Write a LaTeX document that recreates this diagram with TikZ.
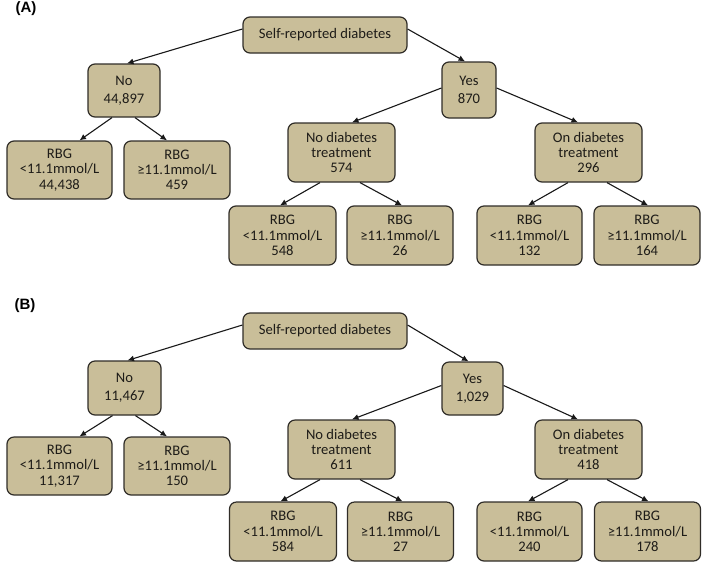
\documentclass[tikz,border=0pt]{standalone}
\usepackage{fontspec}
\setmainfont{Carlito}
\newfontfamily\labfont{Liberation Sans}
\usetikzlibrary{arrows.meta}
\definecolor{boxtan}{RGB}{201,190,153}
\definecolor{boxedge}{RGB}{48,45,40}
\definecolor{txt}{RGB}{30,28,24}
\begin{document}
\begin{tikzpicture}[x=1pt,y=-1pt,
  box/.style={draw=boxedge, fill=boxtan, line width=1.2pt, rounded corners=7pt,
    inner sep=0pt, align=center, text=txt, font=\fontsize{14.6}{15.2}\selectfont},
  bw/.style={minimum width=#1pt},
  bh/.style={minimum height=#1pt},
  conn/.style={draw=black!90, line width=1.1pt, -{Latex[length=6.5pt,width=6pt]}},
  panel/.style={font=\labfont\bfseries\fontsize{15}{15}\selectfont, inner sep=0pt}
]
\useasboundingbox[fill=white] (0,0) rectangle (708,563);

% ---------------- Panel A ----------------
\node[panel] (labA) at (26,9) {(A)};
\node[box,bw=164,bh=36] (rootA) at (325,35) {Self-reported diabetes};
\node[box,bw=72,bh=53] (noA) at (124,90.5) {No\\[3pt]44,897};
\node[box,bw=54,bh=56] (yesA) at (469,90) {Yes\\[3pt]870};
\node[box,bw=105,bh=58] (rbgA1) at (59.5,170) {RBG\\<11.1mmol/L\\44,438};
\node[box,bw=106,bh=58] (rbgA2) at (177,170) {RBG\\≥11.1mmol/L\\459};
\node[box,bw=107,bh=59] (notrA) at (341.5,152.5) {No diabetes\\treatment\\574};
\node[box,bw=107,bh=59] (ontrA) at (588.5,152.5) {On diabetes\\treatment\\296};
\node[box,bw=107,bh=59] (a31) at (282.5,235.5) {RBG\\<11.1mmol/L\\548};
\node[box,bw=106,bh=59] (a32) at (400,235.5) {RBG\\≥11.1mmol/L\\26};
\node[box,bw=105,bh=59] (a33) at (529.5,235.5) {RBG\\<11.1mmol/L\\132};
\node[box,bw=106,bh=59] (a34) at (647,235.5) {RBG\\≥11.1mmol/L\\164};

\draw[conn] ([yshift=6pt]rootA.west) -- ([xshift=3pt]noA.north);
\draw[conn] ([yshift=6pt]rootA.east) -- ([xshift=-4pt]yesA.north);
\draw[conn] ([yshift=2pt]yesA.west) -- ([xshift=10.5pt]notrA.north);
\draw[conn] ([yshift=2pt]yesA.east) -- ([xshift=-10.5pt]ontrA.north);
\draw[conn] ([xshift=-12pt]noA.south) -- ([xshift=20pt]rbgA1.north);
\draw[conn] ([xshift=11pt]noA.south) -- ([xshift=-10pt]rbgA2.north);
\draw[conn] ([xshift=-21.5pt]notrA.south) -- ([xshift=-2.5pt]a31.north);
\draw[conn] ([xshift=18.5pt]notrA.south) -- ([xshift=2pt]a32.north);
\draw[conn] ([xshift=-20.5pt]ontrA.south) -- ([xshift=-1.5pt]a33.north);
\draw[conn] ([xshift=18.5pt]ontrA.south) -- ([xshift=1pt]a34.north);

% ---------------- Panel B ----------------
\node[panel] (labB) at (25,306) {(B)};
\node[box,bw=164,bh=36] (rootB) at (325,331) {Self-reported diabetes};
\node[box,bw=73,bh=54] (noB) at (124.5,388) {No\\[3pt]11,467};
\node[box,bw=61,bh=53] (yesB) at (472.5,388.5) {Yes\\[3pt]1,029};
\node[box,bw=105,bh=58] (rbgB1) at (59.5,466) {RBG\\<11.1mmol/L\\11,317};
\node[box,bw=106,bh=58] (rbgB2) at (177,466) {RBG\\≥11.1mmol/L\\150};
\node[box,bw=107,bh=59] (notrB) at (341.5,449.5) {No diabetes\\treatment\\611};
\node[box,bw=107,bh=59] (ontrB) at (588.5,449.5) {On diabetes\\treatment\\418};
\node[box,bw=107,bh=59] (b31) at (283,531.5) {RBG\\<11.1mmol/L\\584};
\node[box,bw=106,bh=59] (b32) at (400.5,531.5) {RBG\\≥11.1mmol/L\\27};
\node[box,bw=105,bh=59] (b33) at (529.5,531.5) {RBG\\<11.1mmol/L\\240};
\node[box,bw=106,bh=59] (b34) at (647.5,531.5) {RBG\\≥11.1mmol/L\\178};

\draw[conn] ([yshift=6pt]rootB.west) -- ([xshift=3pt]noB.north);
\draw[conn] ([yshift=6pt]rootB.east) -- ([xshift=-4pt]yesB.north);
\draw[conn] ([yshift=3pt]yesB.west) -- ([xshift=10.5pt]notrB.north);
\draw[conn] ([yshift=3pt]yesB.east) -- ([xshift=-10.5pt]ontrB.north);
\draw[conn] ([xshift=-12pt]noB.south) -- ([xshift=20pt]rbgB1.north);
\draw[conn] ([xshift=11pt]noB.south) -- ([xshift=-10pt]rbgB2.north);
\draw[conn] ([xshift=-21.5pt]notrB.south) -- ([xshift=-2.5pt]b31.north);
\draw[conn] ([xshift=18.5pt]notrB.south) -- ([xshift=2pt]b32.north);
\draw[conn] ([xshift=-20.5pt]ontrB.south) -- ([xshift=-1.5pt]b33.north);
\draw[conn] ([xshift=18.5pt]ontrB.south) -- ([xshift=1pt]b34.north);
\end{tikzpicture}
\end{document}
